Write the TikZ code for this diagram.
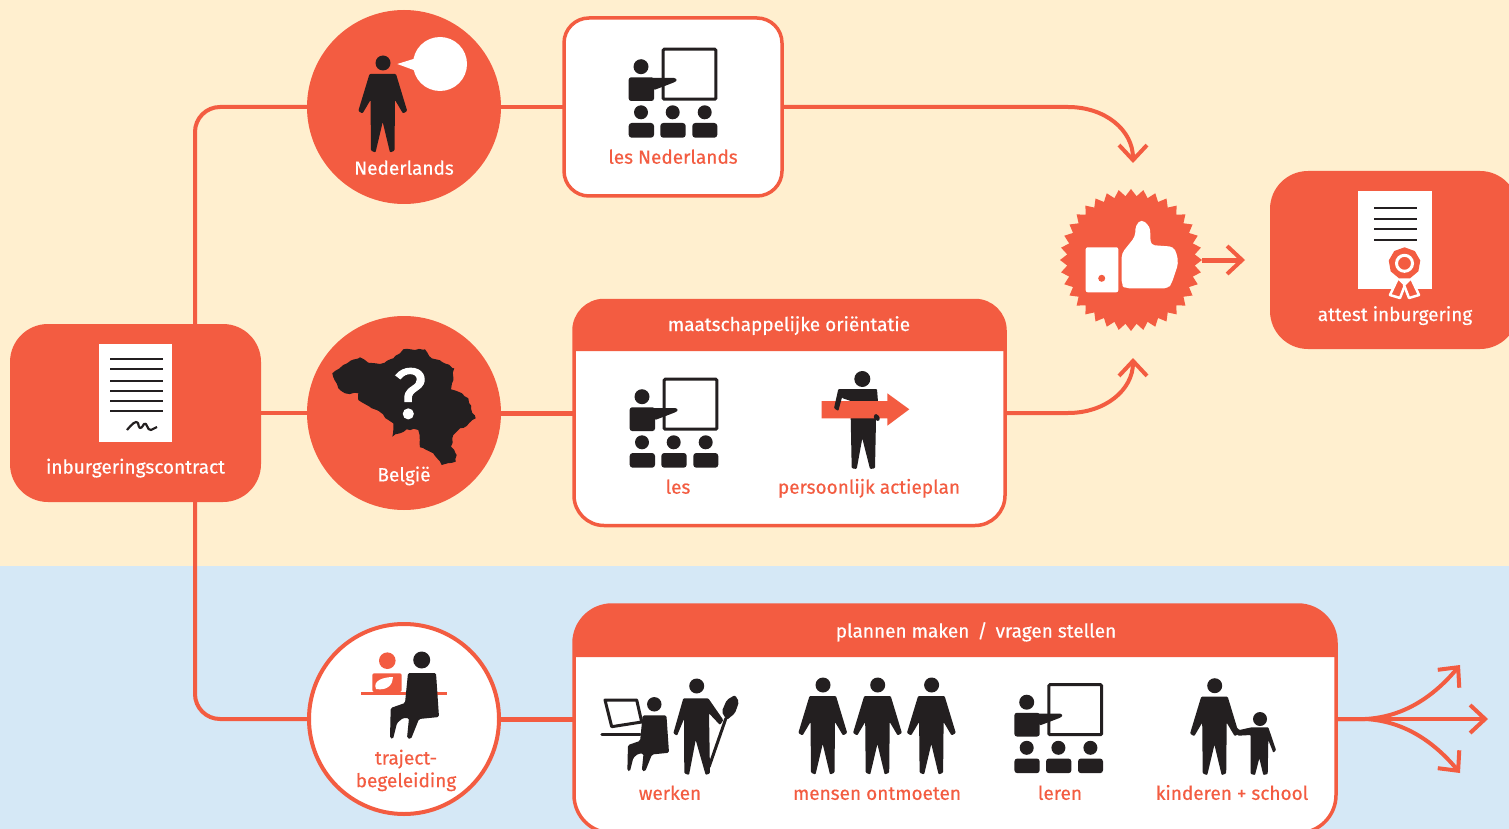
\documentclass[tikz,border=0pt]{standalone}
\usepackage{fontspec}
\setmainfont{Fira Sans}[RawFeature={embolden=0.4}]
\newfontfamily\questionfont{Fira Sans}[RawFeature={embolden=1.6}]
\usetikzlibrary{arrows.meta,shapes.geometric,decorations.pathmorphing}
\definecolor{creambg}{HTML}{FFEFCF}
\definecolor{bluebg}{HTML}{D5E8F6}
\definecolor{coralc}{HTML}{F35C41}
\definecolor{inkc}{HTML}{231F20}
\begin{document}
\begin{tikzpicture}
[x=1pt,y=-1pt,
  panelsolid/.style={shape=rectangle,rounded corners=38pt,fill=coralc,outer sep=0pt,inner sep=0pt},%
  panelopen/.style={shape=rectangle,draw=coralc,line width=3.5pt,fill=white,outer sep=0pt,inner sep=0pt},%
  disc/.style={shape=circle,minimum size=194pt,inner sep=0pt,outer sep=0pt,fill=coralc},%
  linedecorate/.style={-,line width=4pt,draw=coralc},%
  arrowdecorate/.style={line width=4pt,draw=coralc,-{Straight Barb[length=15pt,width=28pt,line width=4pt]}},%
  whitetext/.style={text=white,inner sep=0pt,text height=14pt,text depth=4pt,font=\fontsize{19}{22}\selectfont},%
  coraltext/.style={text=coralc,inner sep=0pt,text height=14pt,text depth=4pt,font=\fontsize{19}{22}\selectfont},%
  docline/.style={draw=inkc,line width=2.2pt},%
  manpic/.pic={
    \fill[inkc] (0,0) circle (7.5);
    \fill[inkc,rounded corners=1pt] (-13.5,11) -- (-24.7,48) -- (-20.5,50.5) -- (-12.5,37) -- (-12,87.7) -- (-7.5,89.5)
      -- (-0.3,59) -- (7,89.5) -- (11.5,87.7) -- (12,37) -- (20,50.5) -- (24.2,48) -- (13,11) -- cycle;
  },%
  sitpic/.pic={
    \fill[inkc] (0,0) circle (8.5);
    \fill[inkc,rounded corners=1.5pt] (-13.7,13) -- (14.3,13) -- (17.3,57) -- (-2.7,59) -- (-10.7,79) -- (-14.7,78) -- (-12.7,58)
      -- (-18.7,58) -- (-24.7,63) -- (-28.7,79) -- (-31.7,78) -- (-31,48) -- (-16.7,43) -- cycle;
  },%
  classpic/.pic={
    \draw[inkc,line width=3pt,fill=white,rounded corners=1pt] (-9.8,-42.8) rectangle (42.8,7.2);
    \fill[inkc] (-32,-25.3) circle (7.5);
    \fill[inkc,rounded corners=2.5pt] (-44.3,-14.7) rectangle (-19,9);
    \fill[inkc,rounded corners=1pt] (-23,-14) -- (2,-14) -- (4,-12) -- (2,-10) -- (-11,-5) -- (-19,-2) -- cycle;
    \fill[inkc] (-32,20.3) circle (7);
    \fill[inkc] (-0.3,20.3) circle (7);
    \fill[inkc] (31.7,20.3) circle (7);
    \fill[inkc,rounded corners=3pt] (-44.3,31) rectangle (-19,45.7);
    \fill[inkc,rounded corners=3pt] (-12.7,31) rectangle (12.7,45.7);
    \fill[inkc,rounded corners=3pt] (19.3,31) rectangle (44.3,45.7);
  }]
\clip (0,0) rectangle (1509,829);
\useasboundingbox (0,0) rectangle (1509,829);
\fill[creambg] (0,0) rectangle (1509,566);
\fill[bluebg] (0,566) rectangle (1509,829);
%%% nodes of the flow
% panels and discs
\node (contract) at (135.5,413) [panelsolid,minimum width=251pt,minimum height=178pt] {};
\node (nederlands) at (404,107) [disc] {};
\node (belgie) at (404,413) [disc] {};
\node (traject) at (404,719) [disc,minimum size=190pt,draw=coralc,line width=4pt,fill=white] {};
\node (lesnl) at (673,107) [panelopen,rounded corners=25pt,minimum width=218pt,minimum height=178pt] {};
\node (orient) at (789.5,413) [panelopen,rounded corners=30pt,minimum width=431pt,minimum height=225pt] {};
\node (plan) at (955,719) [panelopen,rounded corners=38pt,minimum width=762pt,minimum height=228pt] {};
\node (badge) at (1131,260) [shape=star,star points=36,star point height=7pt,minimum size=142pt,fill=coralc,inner sep=0pt,outer sep=0pt] {};
\node (attest) at (1394,260) [panelsolid,minimum width=248pt,minimum height=178pt] {};
% free ends
\coordinate (split) at (195,413);
\coordinate (topend) at (1133,163);
\coordinate (midend) at (1133,358);
\coordinate (attestend) at (1245,260);
\coordinate (upend) at (1460,665);
\coordinate (straightend) at (1488,719);
\coordinate (downend) at (1460,773);
%%% connectors
\draw[linedecorate,rounded corners=25pt] (split |- contract.north) |- (nederlands.west);
\draw[linedecorate,rounded corners=25pt] (split |- contract.south) |- (traject.west);
\path
(contract) edge[linedecorate] (belgie)
(nederlands) edge[linedecorate] (lesnl)
(belgie) edge[linedecorate,line width=5pt] (orient)
(traject) edge[linedecorate,line width=5pt] (plan);
\draw[arrowdecorate] (lesnl.east) -- (1068,107) .. controls (1105,107) and (1133,130) .. (topend);
\draw[arrowdecorate] (orient.east) -- (1068,413) .. controls (1105,413) and (1133,390) .. (midend);
\draw[arrowdecorate,line width=5pt] (badge.east) -- (attestend);
\draw[arrowdecorate] (plan.east) -- (straightend);
\draw[arrowdecorate] (plan.east) -- (1365,719) .. controls (1405,717) and (1435,695) .. (upend);
\draw[arrowdecorate] (plan.east) -- (1365,719) .. controls (1405,721) and (1435,743) .. (downend);
%%% headers of the open panels
\fill[coralc] (orient.west |- 0,351) [rounded corners=30pt] -- (orient.north west) -- (orient.north east) [sharp corners] -- (orient.east |- 0,351) -- cycle;
\fill[coralc] (plan.west |- 0,657) [rounded corners=38pt] -- (plan.north west) -- (plan.north east) [sharp corners] -- (plan.east |- 0,657) -- cycle;
%%% contract icon
\fill[white] (98.7,344.3) rectangle (172.3,441.7);
\draw[docline] (110,359.3) -- (162.7,359.3);
\draw[docline] (110,369.3) -- (162.7,369.3);
\draw[docline] (110,380.7) -- (162.7,380.7);
\draw[docline] (110,390.7) -- (162.7,390.7);
\draw[docline] (110,401.3) -- (162.7,401.3);
\draw[docline] (110,411) -- (162.7,411);
\draw[inkc,line width=2.2pt,line join=round] (127,430) .. controls (132,424) and (136,420) .. (138,423) .. controls (139,428) and (140,431) .. (144,424) .. controls (147,421) and (147,431) .. (151,430) -- (157,427);
\node (contractlabel) at (135.5,468.5) [whitetext] {inburgeringscontract};
%%% Nederlands icon
\pic at (383,63) {manpic};
\fill[white] (440,64) circle (27);
\fill[white] (397.3,64) -- (415,58.5) -- (415,70.5) -- cycle;
\node (nederlandslabel) at (404,169.7) [whitetext] {Nederlands};
%%% les Nederlands
\pic at (673,92) {classpic};
\node (lesnllabel) at (673,158.7) [coraltext] {les Nederlands};
%%% Belgium icon
\pgfmathsetseed{7}
\fill[inkc,decorate,decoration={random steps,segment length=4pt,amplitude=0.9pt}] (332.3,373.3) -- (343.3,365) -- (360,357.3) -- (368.3,362.7) -- (380,364) -- (393.3,358.3) -- (400,353.3) -- (403.3,349.3) -- (415,350) -- (425,349.3) -- (431.7,358.3) -- (441.7,361.7) -- (454.3,368.3) -- (451,389.3) -- (458.3,391.7) -- (468.3,398.3) -- (471,408.3) -- (475.7,418.3) -- (466.7,426) -- (460,428.3) -- (453.3,435) -- (451,446.7) -- (456.7,455) -- (455.7,461.7) -- (441.7,465) -- (433.3,453.3) -- (420,447.3) -- (418.3,430) -- (406.7,429.3) -- (392.3,436.7) -- (393.3,423.3) -- (388.3,420) -- (376.7,410) -- (371.7,408.3) -- (358.3,400) -- (358.3,393.3) -- (345,393.3) -- (338.3,388.3) -- cycle;
\node (question) at (410,393.5) [text=white,inner sep=0pt,font=\fontsize{71}{73}\questionfont] {?};
\node (belgielabel) at (404,476.3) [whitetext] {België};
%%% orientation panel
\node (orientlabel) at (789,326) [whitetext] {maatschappelijke oriëntatie};
\pic at (674,422) {classpic};
\node (leslabel) at (678,488.7) [coraltext] {les};
% man with arrow
\fill[inkc] (862.3,379) circle (8);
\fill[inkc,rounded corners=1pt] (838.3,389) -- (877,389) -- (878,402) -- (876,420) -- (875,468.3) -- (870,469) -- (862.3,438.3) -- (856.7,469) -- (851.7,468.3) -- (850.7,418) -- (850.7,401) -- (842,398) -- cycle;
\fill[coralc] (821.7,401) -- (887.3,401) -- (887.3,393.3) -- (909.3,409.3) -- (887.3,425.7) -- (887.3,418.3) -- (821.7,418.3) -- cycle;
\fill[inkc,rounded corners=1pt] (838.3,389) -- (846,389) -- (841.7,398.3) -- (838.3,411) -- (834,408.3) -- cycle;
\fill[inkc,rounded corners=1.5pt] (875,413.3) -- (880,416.7) -- (879,421.7) -- (873.3,418.3) -- cycle;
\node (actielabel) at (869,488.7) [coraltext] {persoonlijk actieplan};
%%% trajectbegeleiding icon
\fill[coralc] (387.3,660.7) circle (8.3);
\fill[coralc,rounded corners=2pt] (372.3,673.3) rectangle (401.7,692);
\draw[coralc,line width=2.5pt] (361,693.3) -- (446.7,693.3);
\fill[white] (376,689) .. controls (372,680) and (385,677) .. (393,677) .. controls (393,684) and (388,691) .. (376,689) -- cycle;
\pic at (421.7,660) {sitpic};
\node (trajectlabel) at (406,759.5) [coraltext] {traject-};
\node (begeleidlabel) at (406,782.2) [coraltext] {begeleiding};
%%% plans panel
\node (planlabel) at (976,632.5) [whitetext] {plannen maken \,/\, vragen stellen};
% working
\draw[inkc,line width=3pt,fill=white,line join=round] (605,700) -- (636.7,700) -- (641.7,722) -- (611.7,726.7) -- cycle;
\draw[inkc,line width=3.5pt,line cap=round] (602,734.3) -- (640,734.3);
\pic[scale=.85] at (654.3,704.3) {sitpic};
\fill[inkc] (696.7,686) circle (7.5);
\fill[inkc,rounded corners=1pt] (683.3,698.3) -- (673.3,733.3) -- (677,735.7) -- (684,719) -- (684.3,773.3) -- (689,775) -- (695.7,740) -- (705.7,775) -- (710,773.3) -- (709,713.3) -- (720,725) -- (723.3,720) -- (708.3,698.3) -- cycle;
\draw[inkc,line width=3pt] (726,718) -- (709,767);
\fill[inkc,rounded corners=2pt] (726.7,700) -- (735,695) -- (739,701.7) -- (735,713.3) -- (726.7,720) -- (721.7,711.7) -- cycle;
\node (werkenlabel) at (670,794.8) [coraltext] {werken};
% meeting people
\pic at (823,685) {manpic};
\pic at (877.7,685) {manpic};
\pic at (931.6,685) {manpic};
\node (mensenlabel) at (877,794.8) [coraltext] {mensen ontmoeten};
% learning
\pic at (1058.7,727.5) {classpic};
\node (lerenlabel) at (1060,794.8) [coraltext] {leren};
% children
\pic at (1214.7,685.7) {manpic};
\fill[inkc] (1260,719) circle (7);
\fill[inkc,rounded corners=0.8pt] (1231,722) -- (1239.3,730) -- (1251.7,727.3) -- (1268.3,727.3) -- (1276,750) -- (1273.3,752.7) -- (1268.3,740) -- (1267.7,774) -- (1263.3,775) -- (1259.3,758.3) -- (1255,775) -- (1250.7,774) -- (1250.7,735) -- (1238.3,735.7) -- (1229,725) -- cycle;
\node (kinderenlabel) at (1232,794.8) [coraltext] {kinderen + school};
%%% badge icon
\fill[white,rounded corners=2pt] (1085.7,247.3) rectangle (1118.3,292.3);
\fill[coralc] (1101.7,278.3) circle (3.5);
\fill[white,rounded corners=4pt] (1121.7,253.3) -- (1135,236.7) -- (1135.7,225) -- (1141.7,219.3) -- (1150,226.7) -- (1150.7,245) -- (1173.3,246.7) -- (1176.7,253.3) -- (1178.3,263.3) -- (1175,273.3) -- (1171.7,283.3) -- (1168.3,288.3) -- (1125,288.3) -- (1121.7,285) -- cycle;
%%% attest icon
\fill[white] (1358.3,191.3) rectangle (1432.3,288.7);
\draw[docline] (1374,208) -- (1417,208);
\draw[docline] (1374,219) -- (1417,219);
\draw[docline] (1374,229) -- (1417,229);
\draw[docline] (1374,240) -- (1417,240);
\draw[white,line width=2.5pt,fill=coralc,line join=round] (1398,278) -- (1390,295) -- (1400,298) -- (1405,285) -- cycle;
\draw[white,line width=2.5pt,fill=coralc,line join=round] (1411,278) -- (1419,295) -- (1409,298) -- (1404,285) -- cycle;
\node (seal) at (1404.5,263.3) [shape=regular polygon,regular polygon sides=9,minimum size=32pt,inner sep=0pt,fill=coralc] {};
\node (sealcore) at (1404.5,263.3) [shape=circle,minimum size=16pt,inner sep=0pt,draw=white,line width=3pt,fill=coralc] {};
\node (attestlabel) at (1395,316) [whitetext] {attest inburgering};
\end{tikzpicture}
\end{document}
